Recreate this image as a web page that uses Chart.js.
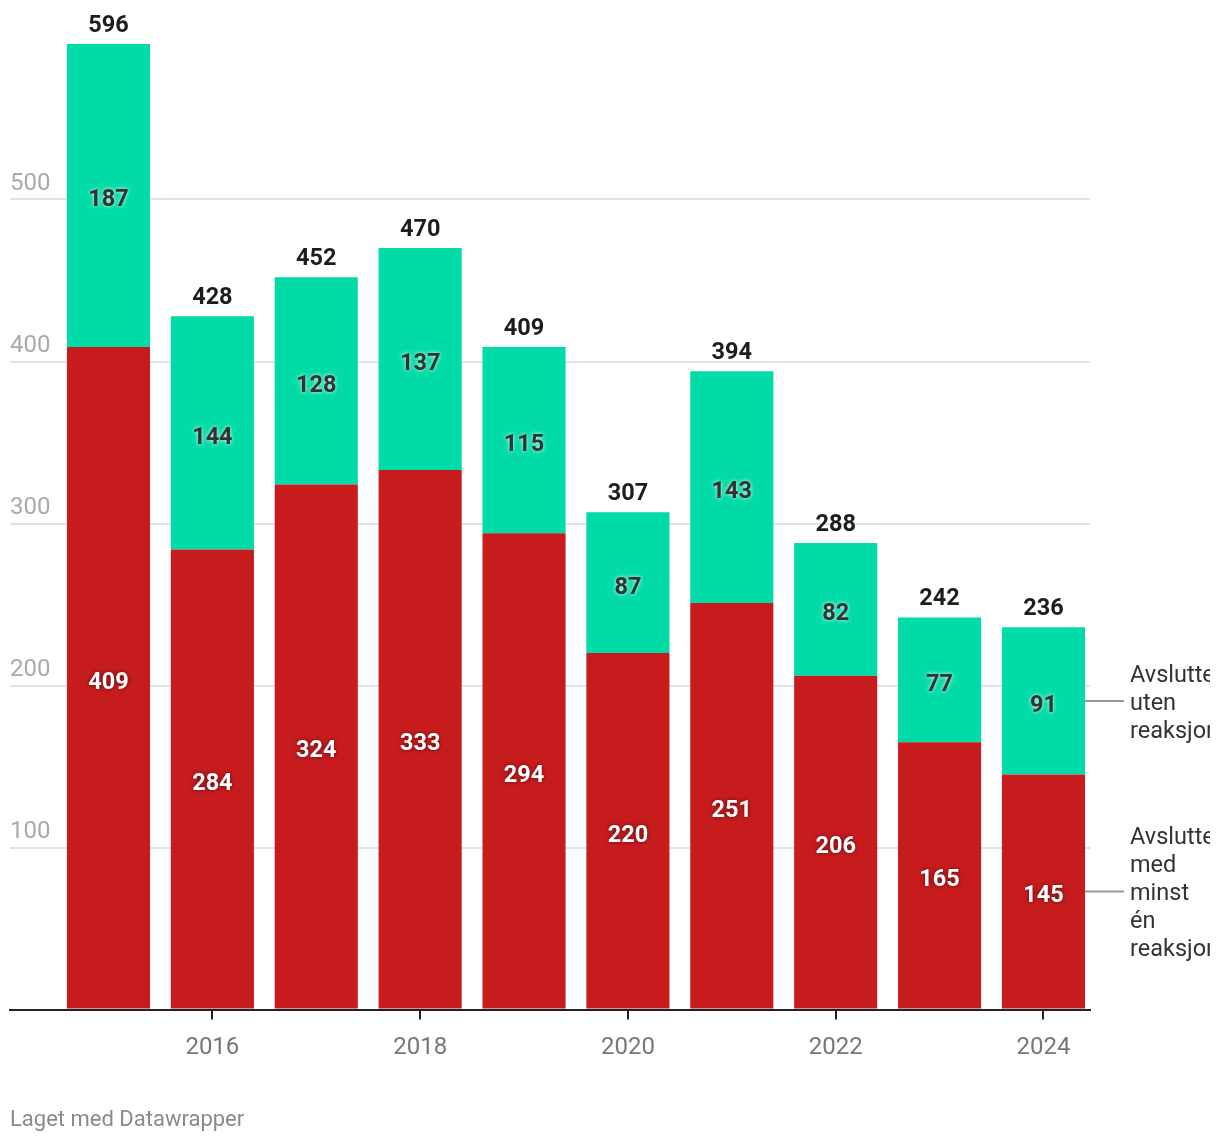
<!DOCTYPE html>
<html>
<head>
<meta charset="utf-8">
<script src="https://cdn.jsdelivr.net/npm/chart.js@4"></script>
<style>
  html, body { margin: 0; padding: 0; background: #fff; overflow: hidden; }
  #wrap { position: relative; width: 1220px; height: 1142px; }
  #footer { position: absolute; left: 10px; top: 1106px; font: 22px Roboto, sans-serif; color: #8a8a8a; }
</style>
</head>
<body>
<div id="wrap">
  <canvas id="myChart"></canvas>
  <div id="footer">Laget med Datawrapper</div>
</div>
<script>
const years = [2015, 2016, 2017, 2018, 2019, 2020, 2021, 2022, 2023, 2024];
const medReaksjon = [409, 284, 324, 333, 294, 220, 251, 206, 165, 145];
const utenReaksjon = [187, 144, 128, 137, 115, 87, 143, 82, 77, 91];
const totals = [596, 428, 452, 470, 409, 307, 394, 288, 242, 236];
const xTicks = [2016, 2018, 2020, 2022, 2024];
const yTicks = [0, 100, 200, 300, 400, 500];
const seriesNames = [
  ['Avsluttet', 'med', 'minst', 'én', 'reaksjon'],
  ['Avsluttet', 'uten', 'reaksjon']
];

const RED = '#c71c1e';
const GREEN = '#00dba8';
const FONT = 'Roboto, sans-serif';

// labels inside the bars, totals on top, and the labels on the right
const labelPlugin = {
  id: 'labels',
  afterDatasetsDraw(chart) {
    const ctx = chart.ctx;
    const red = chart.getDatasetMeta(0).data;
    const green = chart.getDatasetMeta(1).data;
    ctx.save();
    ctx.textAlign = 'center';
    ctx.textBaseline = 'middle';
    ctx.font = 'bold 23.5px ' + FONT;
    for (let i = 0; i < years.length; ++i)
    {
      let r = red[i], g = green[i];
      ctx.shadowColor = 'rgba(0,0,0,0.55)';
      ctx.shadowBlur = 4;
      ctx.fillStyle = '#fff';
      ctx.fillText(medReaksjon[i], r.x, (r.y + r.base) / 2 + 5);

      ctx.shadowColor = 'rgba(255,255,255,0.9)';
      ctx.fillStyle = '#333';
      ctx.fillText(utenReaksjon[i], g.x, (g.y + g.base) / 2 + 5);

      ctx.shadowBlur = 0;
      ctx.shadowColor = 'transparent';
      ctx.fillStyle = '#1d1d1d';
      ctx.fillText(totals[i], g.x, g.y - 18);
    }

    // right side labels with connector lines, cut off like the original
    let last = years.length - 1;
    let bars = [red[last], green[last]];
    ctx.beginPath();
    ctx.rect(0, 0, 1210, chart.height);
    ctx.clip();
    ctx.font = '23.5px ' + FONT;
    ctx.textAlign = 'left';
    for (let s = 0; s < 2; ++s)
    {
      let b = bars[s];
      let cy = (b.y + b.base) / 2;
      ctx.strokeStyle = '#999';
      ctx.lineWidth = 2;
      ctx.beginPath();
      ctx.moveTo(b.x + b.width / 2, cy);
      ctx.lineTo(1124, cy);
      ctx.stroke();
      let lines = seriesNames[s];
      let start = cy - (lines.length - 1) / 2 * 28;
      ctx.fillStyle = '#333';
      for (let k = 0; k < lines.length; ++k)
      {
        ctx.fillText(lines[k], 1130, start + k * 28 + 3);
      }
    }
    ctx.restore();
  }
};

const data = {
  datasets: [
    {
      label: seriesNames[0].join(' '),
      data: years.map((y, i) => ({ x: y, y: medReaksjon[i] })),
      backgroundColor: RED,
      barPercentage: 0.8,
      categoryPercentage: 1.0
    },
    {
      label: seriesNames[1].join(' '),
      data: years.map((y, i) => ({ x: y, y: utenReaksjon[i] })),
      backgroundColor: GREEN,
      barPercentage: 0.8,
      categoryPercentage: 1.0
    }
  ]
};

const config = {
  type: 'bar',
  data: data,
  plugins: [labelPlugin],
  options: {
    responsive: true,
    maintainAspectRatio: false,
    animation: false,
    layout: { padding: { left: 10, right: 130, top: 37.5, bottom: 72.5 } },
    plugins: { legend: { display: false }, tooltip: { enabled: false } },
    scales: {
      x: {
        type: 'linear',
        stacked: true,
        offset: false,
        min: 2014.052,
        max: 2024.448,
        afterBuildTicks: axis => { axis.ticks = xTicks.map(v => ({ value: v })); },
        afterFit: axis => { axis.height = 60; },
        grid: { offset: false, drawOnChartArea: false, drawTicks: true, tickLength: 10, color: '#222', lineWidth: 2 },
        border: { display: true, color: '#222', width: 2 },
        ticks: {
          color: '#777',
          font: { family: FONT, size: 24 },
          padding: 14,
          maxRotation: 0,
          callback: v => String(v)
        }
      },
      y: {
        stacked: true,
        min: 0,
        max: 600,
        afterBuildTicks: axis => { axis.ticks = yTicks.map(v => ({ value: v })); },
        afterFit: axis => { axis.width = 0; },
        grid: { color: '#e3e3e3', lineWidth: 2, drawTicks: false },
        border: { display: false },
        ticks: {
          mirror: true,
          padding: 0,
          labelOffset: -16,
          color: '#aaa',
          font: { family: FONT, size: 24 },
          callback: v => v === 0 ? '' : String(v)
        }
      }
    }
  }
};

const myChart = new Chart(document.getElementById('myChart'), config);
</script>
</body>
</html>
